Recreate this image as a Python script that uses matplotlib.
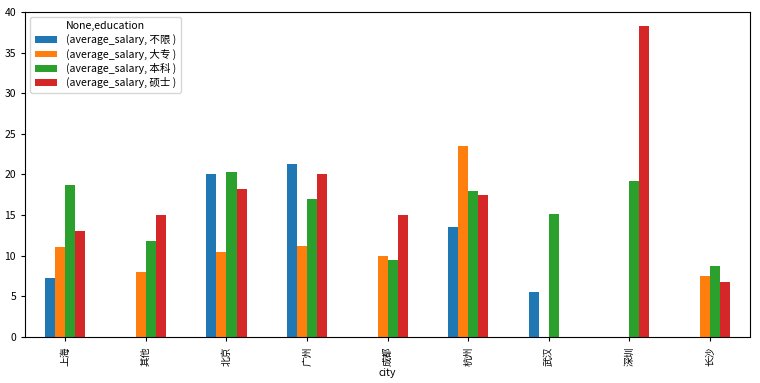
import numpy as np
import matplotlib
matplotlib.use('Agg')
import matplotlib.pyplot as plt
from matplotlib.axes import Axes
from matplotlib.figure import Figure

plt.rcParams['font.family'] = ['Noto Sans CJK SC', 'DejaVu Sans']
plt.rcParams['axes.unicode_minus'] = False

cities = ['上海', '其他', '北京', '广州', '成都', '杭州', '武汉', '深圳', '长沙']
educations = ['不限', '大专', '本科', '硕士']
nan = np.nan
salary_buxian = [7.3, nan, 20.0, 21.3, nan, 13.5, 5.5, nan, nan]
salary_dazhuan = [11.1, 8.0, 10.5, 11.2, 10.0, 23.5, nan, nan, 7.5]
salary_benke = [18.7, 11.8, 20.3, 17.0, 9.5, 18.0, 15.1, 19.2, 8.7]
salary_shuoshi = [13.0, 15.0, 18.2, 20.0, 15.0, 17.5, nan, 38.3, 6.8]
series = [salary_buxian, salary_dazhuan, salary_benke, salary_shuoshi]
colors = ['#1f77b4', '#ff7f0e', '#2ca02c', '#d62728']

fig: Figure = plt.figure(facecolor='w', figsize=(7.6, 3.83), dpi=100)
ax: Axes = fig.add_axes([0.033, 0.12, 0.954, 0.849])

x = np.arange(len(cities))
w = 0.125
for i, (edu, vals) in enumerate(zip(educations, series)):
    ax.bar(x + (i - 1.5) * w, vals, width=w, color=colors[i],
           label=f'(average_salary, {edu} )')

ax.set_xticks(x)
ax.set_xticklabels(cities, rotation=90, fontsize=7)
ax.tick_params(axis='y', labelsize=7.5)
ax.tick_params(length=3, width=0.8)
ax.set_xlim(-0.5, len(cities) - 0.5)
ax.set_ylim(0, 40)
ax.set_xlabel('city', fontsize=7.5, labelpad=2)

ax.legend(title='None,education', loc='upper left', fontsize=7.6, title_fontsize=7.6,
          handlelength=2.1, handleheight=0.6, labelspacing=0.3, borderpad=0.4,
          handletextpad=0.9)

fig.savefig('out.png', format='png')
